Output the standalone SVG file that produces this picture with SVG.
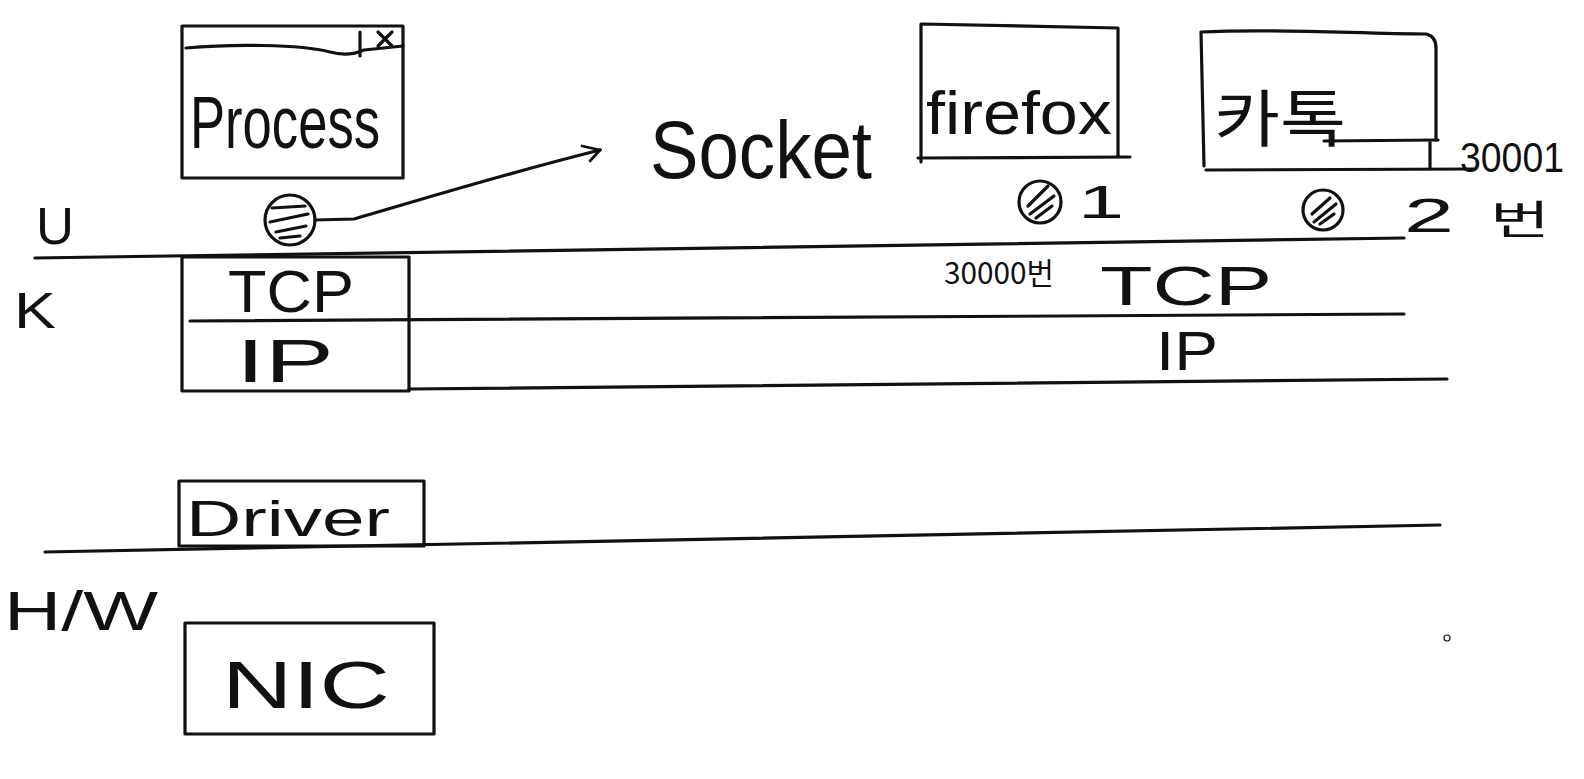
<svg xmlns="http://www.w3.org/2000/svg" width="1584" height="779" viewBox="0 0 1584 779">
<style>
.s{fill:none;stroke:#111;stroke-width:3.2;stroke-linecap:round;stroke-linejoin:round}
.t{font-family:"Liberation Sans","Noto Sans CJK KR",sans-serif;fill:#111}
.k{font-family:"Noto Sans CJK KR","Liberation Sans",sans-serif;fill:#111}
</style>
<defs>
<marker id="ah" viewBox="0 0 20 20" refX="18" refY="10" markerWidth="22" markerHeight="22" markerUnits="userSpaceOnUse" orient="auto">
<path d="M2,2 L18,10 L6,18" fill="none" stroke="#111" stroke-width="2.5"/>
</marker>
</defs>
<rect width="1584" height="779" fill="#fff"/>

<g id="layer-lines">
<path class="s" d="M35,258 L1404,238"/>
<path class="s" d="M190,321 L1404,314"/>
<path class="s" d="M409,389 L1447,379"/>
<path class="s" d="M45,552 L1440,525"/>
</g>

<g id="labels-left">
<text class="t" x="36" y="244" font-size="52" textLength="38" lengthAdjust="spacingAndGlyphs">U</text>
<text class="t" x="14" y="328" font-size="50" textLength="42" lengthAdjust="spacingAndGlyphs">K</text>
<text class="t" x="4" y="630" font-size="56" textLength="154" lengthAdjust="spacingAndGlyphs">H/W</text>
</g>

<g id="process">
<rect class="s" x="182" y="26" width="221" height="152"/>
<path class="s" d="M186,48 C230,44 300,44 330,52 C345,56 355,54 364,50 L403,46"/>
<path class="s" d="M360,32 L360,56 M378,32 L392,46 M392,32 L378,46"/>
<text class="t" x="190" y="148" font-size="74" textLength="190" lengthAdjust="spacingAndGlyphs">Process</text>
</g>

<g id="socket">
<circle class="s" cx="290" cy="220" r="25"/>
<path class="s" d="M272,208 L305,206 M270,222 L308,214 M276,232 L306,226 M280,238 L300,236"/>
<text class="t" x="650" y="178" font-size="82" textLength="222" lengthAdjust="spacingAndGlyphs">Socket</text>
</g>

<g id="connectors">
<path class="s" d="M315,220 L354,219 C420,200 500,175 600,150" marker-end="url(#ah)"/>
</g>

<g id="tcpip-left">
<rect class="s" x="182" y="257" width="227" height="134"/>
<text class="t" x="228" y="312" font-size="60" textLength="126" lengthAdjust="spacingAndGlyphs">TCP</text>
<text class="t" x="236" y="382" font-size="62" textLength="98" lengthAdjust="spacingAndGlyphs">IP</text>
</g>

<g id="tcpip-right">
<text class="k" x="944" y="284" font-size="30" textLength="110" lengthAdjust="spacingAndGlyphs">30000번</text>
<text class="t" x="1100" y="305" font-size="56" textLength="172" lengthAdjust="spacingAndGlyphs">TCP</text>
<text class="t" x="1156" y="370" font-size="56" textLength="62" lengthAdjust="spacingAndGlyphs">IP</text>
</g>

<g id="driver">
<rect class="s" x="179" y="481" width="245" height="65"/>
<text class="t" x="186" y="536" font-size="50" textLength="204" lengthAdjust="spacingAndGlyphs">Driver</text>
</g>

<g id="nic">
<rect class="s" x="185" y="623" width="249" height="111"/>
<text class="t" x="222" y="708" font-size="66" textLength="168" lengthAdjust="spacingAndGlyphs">NIC</text>
</g>

<g id="firefox">
<path class="s" d="M921,162 L921,24 L1118,28 L1118,156 M918,158 L1130,157"/>
<text class="t" x="926" y="134" font-size="62" textLength="186" lengthAdjust="spacingAndGlyphs">firefox</text>
<circle class="s" cx="1040" cy="202" r="21"/>
<path class="s" d="M1028,206 L1048,186 M1030,214 L1054,196 M1036,218 L1052,206"/>
<text class="t" x="1078" y="218" font-size="46" textLength="46" lengthAdjust="spacingAndGlyphs">1</text>
</g>

<g id="katalk">
<path class="s" d="M1204,166 L1201,32 C1280,28 1360,34 1426,34 Q1436,36 1436,48 L1436,140 M1206,170 L1474,169"/>
<path class="s" d="M1324,141 L1438,140 M1430,141 L1430,168"/>
<text class="k" x="1214" y="142" font-size="62" textLength="132" lengthAdjust="spacingAndGlyphs">카톡</text>
<circle class="s" cx="1323" cy="210" r="20"/>
<path class="s" d="M1312,214 L1330,198 M1314,222 L1336,204 M1320,224 L1334,214"/>
<text class="t" x="1404" y="232" font-size="48" textLength="50" lengthAdjust="spacingAndGlyphs">2</text>
<text class="t" x="1460" y="172" font-size="42" textLength="104" lengthAdjust="spacingAndGlyphs">30001</text>
<text class="k" x="1490" y="234" font-size="40" textLength="60" lengthAdjust="spacingAndGlyphs">번</text>
</g>

<circle cx="1447" cy="638" r="3" fill="none" stroke="#111" stroke-width="1.2"/>
</svg>
